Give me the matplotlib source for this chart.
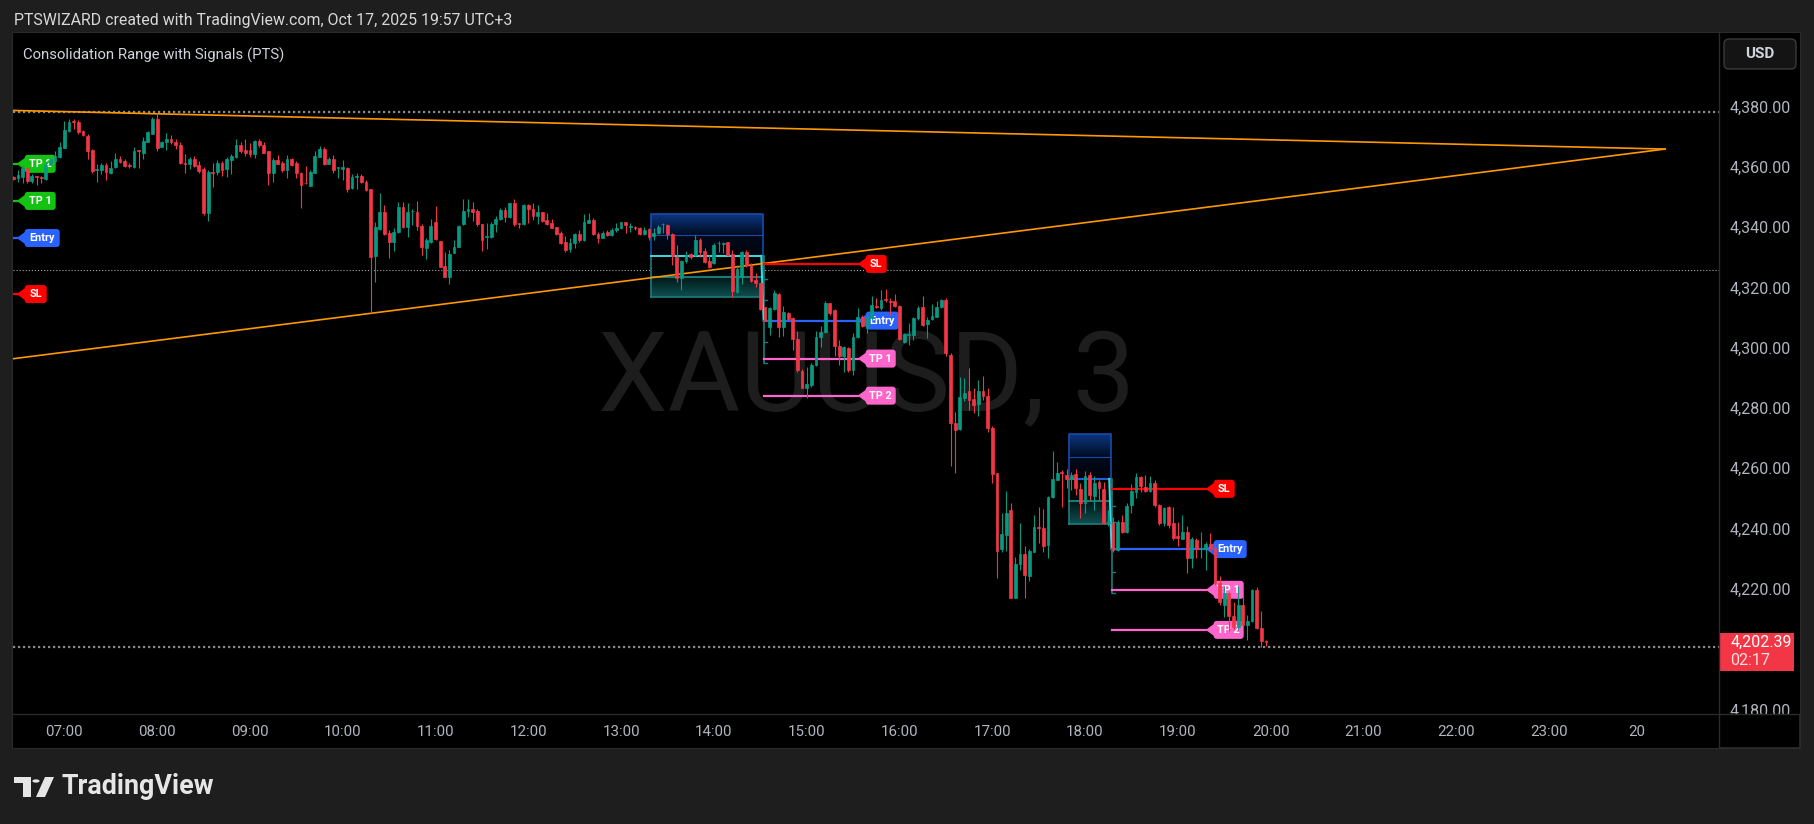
import numpy as np
import matplotlib
matplotlib.use("Agg")
import matplotlib.pyplot as plt
import matplotlib.transforms as mtransforms
from matplotlib.colors import LinearSegmentedColormap
from matplotlib.patches import FancyBboxPatch, Polygon, Rectangle, Circle

plt.rcParams["font.family"] = ["Roboto", "DejaVu Sans"]
plt.rcParams["lines.scale_dashes"] = False

W, H = 1814, 824

# ---- XAUUSD 3-minute candles, bar 0 = 06:27 (UTC+3) ----
opens = [
    4356.6, 4356.2, 4356.6, 4359.5, 4355.3, 4356.7, 4356.5, 4356.0, 4360.9, 4362.1,
    4363.2, 4366.4, 4372.0, 4375.0, 4374.9, 4371.9, 4370.3, 4365.5, 4359.0, 4359.0,
    4360.6, 4358.1, 4359.8, 4362.5, 4362.0, 4360.6, 4360.1, 4365.4, 4364.7, 4368.4,
    4371.0, 4375.9, 4366.7, 4368.1, 4369.3, 4368.3, 4367.3, 4361.3, 4360.9, 4362.6,
    4360.6, 4359.2, 4344.8, 4358.3, 4358.2, 4361.4, 4359.2, 4362.2, 4363.4, 4367.3,
    4365.6, 4365.6, 4364.3, 4368.6, 4367.3, 4365.1, 4358.1, 4362.3, 4361.3, 4359.0,
    4362.6, 4361.4, 4357.9, 4354.7, 4353.7, 4358.1, 4363.4, 4365.8, 4361.1, 4362.5,
    4359.5, 4359.2, 4359.5, 4352.9, 4356.5, 4357.0, 4355.1, 4352.5, 4330.4, 4339.4,
    4344.9, 4338.2, 4335.2, 4338.3, 4346.6, 4340.2, 4345.2, 4345.1, 4340.4, 4333.2,
    4335.2, 4341.6, 4335.4, 4327.1, 4323.3, 4331.5, 4333.5, 4340.9, 4345.5, 4346.0,
    4345.4, 4340.9, 4336.6, 4336.6, 4341.0, 4342.6, 4345.7, 4343.3, 4347.9, 4341.3,
    4341.0, 4347.3, 4345.9, 4343.7, 4344.9, 4342.4, 4341.5, 4339.9, 4338.2, 4335.0,
    4332.8, 4334.9, 4337.7, 4335.7, 4341.5, 4342.4, 4337.7, 4336.5, 4338.5, 4337.4,
    4339.1, 4339.6, 4341.6, 4340.2, 4340.2, 4339.6, 4337.6, 4339.3, 4337.1, 4338.2,
    4340.9, 4340.7, 4337.6, 4330.0, 4323.0, 4328.8, 4331.0, 4330.8, 4335.7, 4332.1,
    4328.8, 4328.0, 4334.6, 4334.5, 4335.0, 4331.0, 4318.6, 4323.5, 4331.9, 4327.6,
    4322.5, 4321.4, 4313.4, 4307.0, 4312.8, 4317.7, 4307.0, 4311.4, 4309.8, 4302.8,
    4292.3, 4286.8, 4287.5, 4294.3, 4303.5, 4305.1, 4314.7, 4312.5, 4300.7, 4297.4,
    4300.0, 4292.6, 4303.4, 4310.3, 4306.5, 4309.8, 4313.6, 4313.1, 4316.0, 4315.5,
    4315.5, 4313.9, 4302.0, 4304.2, 4304.2, 4309.8, 4313.4, 4307.8, 4309.4, 4310.3,
    4313.4, 4315.8, 4297.6, 4275.0, 4273.0, 4283.3, 4285.7, 4282.9, 4281.2, 4285.7,
    4284.1, 4273.3, 4258.4, 4233.2, 4238.0, 4246.2, 4217.0, 4228.2, 4231.5, 4224.3,
    4232.4, 4240.5, 4240.1, 4234.4, 4250.4, 4256.2, 4258.6, 4257.8, 4256.4, 4258.0,
    4253.1, 4248.4, 4257.8, 4250.9, 4255.6, 4253.1, 4242.0, 4242.0, 4232.9, 4242.3,
    4238.8, 4247.9, 4252.3, 4257.1, 4253.7, 4252.6, 4255.1, 4247.9, 4241.8, 4247.1,
    4241.8, 4237.4, 4236.6, 4238.8, 4230.4, 4236.3, 4233.2, 4233.2, 4234.8, 4233.5,
    4221.9, 4214.7, 4218.8, 4210.9, 4207.5, 4214.7, 4208.1, 4209.2, 4219.7, 4207.0,
    4202.6,
]
highs = [
    4357.0, 4359.0, 4360.6, 4360.1, 4357.7, 4357.0, 4357.0, 4361.7, 4363.0, 4365.3,
    4368.1, 4375.2, 4375.8, 4375.9, 4375.6, 4372.2, 4370.9, 4365.8, 4360.9, 4361.4,
    4361.2, 4362.1, 4364.7, 4363.6, 4362.5, 4361.2, 4366.7, 4365.6, 4370.0, 4371.9,
    4376.7, 4378.0, 4368.7, 4371.2, 4370.5, 4369.4, 4368.1, 4364.3, 4363.4, 4363.6,
    4361.8, 4360.1, 4358.8, 4361.2, 4362.3, 4362.1, 4363.4, 4364.3, 4369.2, 4368.1,
    4369.2, 4367.8, 4368.9, 4369.2, 4368.1, 4365.3, 4362.9, 4363.9, 4362.0, 4363.9,
    4362.9, 4362.1, 4358.4, 4360.2, 4358.8, 4365.1, 4366.9, 4366.5, 4363.4, 4364.0,
    4360.1, 4362.3, 4360.0, 4357.5, 4358.0, 4357.5, 4355.6, 4352.8, 4341.8, 4351.2,
    4347.3, 4339.1, 4339.6, 4348.4, 4348.2, 4347.9, 4345.9, 4348.7, 4341.0, 4336.3,
    4342.6, 4347.0, 4335.4, 4331.9, 4332.4, 4335.7, 4340.7, 4349.3, 4349.3, 4348.2,
    4345.9, 4340.9, 4341.3, 4341.6, 4343.8, 4346.5, 4346.8, 4348.1, 4349.3, 4341.5,
    4347.7, 4347.7, 4347.9, 4347.3, 4345.1, 4344.6, 4342.6, 4340.2, 4338.8, 4337.2,
    4336.3, 4337.9, 4339.1, 4344.4, 4344.8, 4342.9, 4338.5, 4338.8, 4339.1, 4339.6,
    4341.3, 4341.8, 4341.8, 4341.3, 4340.4, 4340.2, 4340.2, 4339.6, 4339.6, 4340.7,
    4341.3, 4341.0, 4338.0, 4334.1, 4329.1, 4332.2, 4331.5, 4337.4, 4336.3, 4333.0,
    4330.8, 4334.6, 4335.5, 4335.2, 4335.2, 4332.4, 4327.4, 4332.1, 4332.4, 4328.0,
    4324.7, 4321.6, 4313.4, 4313.4, 4319.2, 4318.1, 4313.9, 4311.9, 4310.3, 4305.4,
    4292.9, 4293.7, 4294.9, 4305.4, 4307.2, 4315.5, 4315.0, 4312.8, 4302.6, 4300.6,
    4300.4, 4304.8, 4313.1, 4310.9, 4310.9, 4317.0, 4316.4, 4319.2, 4319.4, 4316.6,
    4317.7, 4314.2, 4305.0, 4308.3, 4310.1, 4313.9, 4317.3, 4310.3, 4314.4, 4315.6,
    4316.1, 4316.4, 4298.2, 4278.8, 4290.4, 4289.9, 4293.2, 4286.6, 4289.3, 4290.6,
    4286.5, 4274.1, 4258.6, 4245.1, 4252.5, 4248.4, 4230.7, 4241.8, 4234.1, 4233.2,
    4244.6, 4247.1, 4246.4, 4250.9, 4265.8, 4262.2, 4259.3, 4259.7, 4258.9, 4259.7,
    4255.1, 4259.1, 4258.9, 4257.3, 4256.2, 4255.6, 4246.2, 4244.0, 4242.9, 4244.6,
    4248.6, 4254.8, 4258.6, 4257.5, 4257.8, 4257.3, 4256.2, 4248.2, 4247.3, 4247.5,
    4247.3, 4242.3, 4244.6, 4240.7, 4237.2, 4236.8, 4239.0, 4235.7, 4238.7, 4235.2,
    4224.3, 4220.8, 4219.1, 4215.8, 4221.0, 4218.0, 4211.4, 4219.9, 4220.5, 4212.7,
    4203.1,
]
lows = [
    4355.7, 4355.1, 4354.8, 4354.8, 4354.6, 4354.0, 4354.8, 4355.7, 4360.5, 4361.2,
    4362.9, 4366.2, 4371.7, 4372.5, 4370.9, 4370.3, 4362.6, 4358.1, 4355.1, 4357.7,
    4355.7, 4357.7, 4359.6, 4361.2, 4359.8, 4359.5, 4359.5, 4359.5, 4362.5, 4368.1,
    4370.8, 4365.4, 4366.5, 4365.6, 4367.5, 4365.8, 4361.0, 4357.9, 4359.2, 4360.1,
    4357.9, 4344.1, 4342.2, 4353.3, 4357.3, 4357.0, 4356.6, 4357.7, 4362.9, 4364.7,
    4363.6, 4363.4, 4362.8, 4366.7, 4364.5, 4354.0, 4355.1, 4360.9, 4358.3, 4356.2,
    4360.4, 4356.2, 4346.2, 4354.4, 4353.5, 4357.9, 4363.2, 4360.7, 4360.9, 4358.1,
    4356.2, 4355.7, 4351.5, 4352.5, 4352.8, 4354.8, 4352.0, 4311.4, 4321.9, 4339.0,
    4337.4, 4329.9, 4332.2, 4338.0, 4339.6, 4336.8, 4340.7, 4339.1, 4330.8, 4329.4,
    4334.6, 4335.7, 4326.7, 4323.3, 4321.0, 4331.3, 4333.3, 4340.7, 4343.5, 4342.1,
    4340.5, 4332.2, 4332.8, 4336.3, 4338.5, 4342.4, 4341.8, 4343.0, 4340.5, 4339.8,
    4340.7, 4341.5, 4342.4, 4340.9, 4341.8, 4340.7, 4339.6, 4337.4, 4334.4, 4331.9,
    4331.9, 4333.2, 4335.2, 4335.5, 4341.3, 4337.4, 4334.6, 4336.3, 4337.1, 4337.1,
    4338.5, 4339.3, 4337.9, 4338.5, 4339.0, 4337.4, 4337.4, 4335.7, 4335.7, 4337.7,
    4338.0, 4336.0, 4327.4, 4321.9, 4319.2, 4328.2, 4329.4, 4330.4, 4330.2, 4328.0,
    4326.3, 4327.7, 4331.9, 4331.3, 4330.4, 4316.7, 4318.3, 4321.0, 4326.9, 4321.7,
    4320.3, 4312.5, 4308.7, 4304.2, 4312.5, 4303.5, 4304.0, 4309.2, 4299.3, 4292.1,
    4286.6, 4283.3, 4287.1, 4294.0, 4300.4, 4305.0, 4310.9, 4297.1, 4294.3, 4291.8,
    4291.9, 4291.0, 4303.1, 4307.0, 4304.8, 4309.2, 4313.1, 4312.5, 4315.3, 4310.9,
    4313.6, 4302.6, 4301.7, 4300.9, 4302.6, 4309.2, 4307.2, 4303.1, 4309.2, 4310.1,
    4313.1, 4297.1, 4260.9, 4258.4, 4272.8, 4282.2, 4279.4, 4278.3, 4277.4, 4282.5,
    4271.9, 4255.1, 4223.6, 4232.4, 4232.7, 4217.0, 4217.0, 4226.3, 4217.0, 4222.5,
    4232.4, 4235.2, 4232.4, 4230.4, 4250.1, 4256.0, 4247.3, 4253.4, 4252.8, 4251.2,
    4243.5, 4245.1, 4249.5, 4246.2, 4249.5, 4241.6, 4240.7, 4232.4, 4232.7, 4238.5,
    4238.5, 4245.1, 4250.1, 4252.3, 4252.3, 4252.3, 4247.3, 4241.2, 4240.7, 4240.1,
    4236.1, 4234.3, 4236.5, 4225.2, 4226.9, 4230.4, 4230.2, 4226.3, 4232.7, 4221.3,
    4214.7, 4210.6, 4205.9, 4206.4, 4206.4, 4207.0, 4203.1, 4208.9, 4206.7, 4200.7,
    4201.0,
]
closes = [
    4356.1, 4357.3, 4359.5, 4355.3, 4357.0, 4356.5, 4356.2, 4360.6, 4362.5, 4363.6,
    4366.5, 4372.3, 4374.8, 4374.8, 4371.4, 4370.5, 4365.4, 4358.7, 4359.2, 4360.6,
    4358.2, 4359.5, 4362.5, 4361.6, 4360.3, 4360.2, 4365.3, 4365.2, 4368.6, 4371.6,
    4375.9, 4366.4, 4368.3, 4369.3, 4368.1, 4367.1, 4361.2, 4361.1, 4362.6, 4360.4,
    4358.7, 4344.6, 4358.2, 4358.1, 4361.4, 4359.0, 4362.6, 4363.6, 4367.3, 4365.3,
    4364.5, 4364.1, 4368.6, 4367.1, 4364.7, 4358.1, 4362.3, 4361.1, 4359.0, 4362.5,
    4360.7, 4357.9, 4354.0, 4354.5, 4358.3, 4363.6, 4365.8, 4361.1, 4362.5, 4359.0,
    4359.7, 4359.8, 4352.5, 4356.5, 4357.0, 4355.1, 4352.3, 4330.2, 4339.9, 4344.9,
    4337.7, 4335.2, 4338.3, 4346.6, 4340.2, 4345.1, 4345.5, 4340.5, 4333.5, 4335.7,
    4340.4, 4336.1, 4326.9, 4323.3, 4331.1, 4333.3, 4340.4, 4345.4, 4346.0, 4345.1,
    4340.9, 4335.7, 4336.8, 4341.0, 4342.7, 4345.7, 4343.3, 4347.9, 4341.0, 4341.0,
    4347.3, 4345.9, 4343.8, 4345.1, 4342.1, 4341.0, 4339.8, 4337.7, 4334.9, 4332.4,
    4334.9, 4337.7, 4335.7, 4341.6, 4342.4, 4337.6, 4336.5, 4338.2, 4337.4, 4339.1,
    4339.6, 4341.6, 4340.7, 4340.4, 4339.6, 4337.6, 4339.1, 4336.6, 4338.2, 4340.2,
    4341.1, 4337.6, 4330.4, 4323.0, 4328.8, 4330.8, 4330.0, 4335.7, 4331.9, 4328.6,
    4326.9, 4334.1, 4334.8, 4334.8, 4330.8, 4318.9, 4326.0, 4331.9, 4327.4, 4322.1,
    4321.4, 4312.8, 4309.0, 4313.1, 4318.1, 4307.0, 4311.8, 4309.4, 4302.8, 4292.6,
    4286.8, 4288.0, 4294.3, 4303.7, 4305.2, 4314.7, 4311.6, 4300.7, 4297.4, 4300.4,
    4292.6, 4303.7, 4310.3, 4307.2, 4310.3, 4314.2, 4313.4, 4315.8, 4315.7, 4315.3,
    4313.9, 4302.8, 4304.5, 4304.5, 4309.8, 4313.1, 4307.6, 4309.2, 4310.5, 4313.6,
    4315.8, 4298.2, 4275.0, 4272.8, 4283.8, 4285.1, 4282.5, 4281.0, 4285.7, 4284.1,
    4273.3, 4258.0, 4232.6, 4238.1, 4245.3, 4217.0, 4228.2, 4231.5, 4224.5, 4232.6,
    4240.5, 4240.1, 4234.1, 4250.4, 4256.4, 4258.4, 4258.4, 4256.4, 4257.8, 4253.4,
    4248.4, 4257.3, 4251.2, 4255.1, 4253.4, 4241.8, 4242.3, 4232.9, 4242.3, 4238.8,
    4247.6, 4252.5, 4257.1, 4254.0, 4252.6, 4255.1, 4247.9, 4241.8, 4246.8, 4241.2,
    4236.8, 4237.0, 4238.8, 4230.4, 4236.5, 4233.2, 4233.5, 4234.8, 4233.7, 4221.9,
    4215.8, 4218.8, 4210.9, 4207.5, 4214.7, 4208.1, 4209.2, 4219.7, 4207.0, 4202.7,
    4202.39,
]
last_price = 4202.39
countdown = "02:17"

# axis ticks
price_ticks = [4180, 4220, 4240, 4260, 4280, 4300, 4320, 4340, 4360, 4380]
time_tick_bars = [11, 31, 51, 71, 91, 111, 131, 151, 171, 191, 211, 231, 251, 271, 291, 311, 331, 350]
time_tick_labels = ["07:00", "08:00", "09:00", "10:00", "11:00", "12:00", "13:00", "14:00", "15:00",
                    "16:00", "17:00", "18:00", "19:00", "20:00", "21:00", "22:00", "23:00", "20"]

# triangle trendlines (anchor bar, price)
upper_line_bars = [31, 356]
upper_line_prices = [4377.6, 4365.9]
lower_line_bars = [77, 356]
lower_line_prices = [4311.4, 4365.9]

# horizontal dotted price lines
coarse_dotted_prices = [4378.3, 4200.6]
fine_dotted_prices = [4325.8]

# consolidation boxes
box_start = [137.5, 227.6]
box_end = [161.5, 236.5]
box_levels = [
    [4316.7, 4323.6, 4330.5, 4337.4, 4344.3],
    [4241.6, 4249.2, 4256.5, 4263.7, 4271.3],
]
box_break_low = [4295.0, 4218.6]
box_break_ticks = [
    [4322.8, 4315.8, 4309.2, 4302.0, 4295.0],
    [4247.6, 4242.1, 4225.5, 4218.6],
]

# trade signals after each breakout
trade_start = [161.8, 236.8]
trade_end = [182.0, 257.0]
sl_prices = [4327.8, 4253.2]
entry_prices = [4309.0, 4233.2]
tp1_prices = [4296.4, 4219.7]
tp2_prices = [4284.1, 4206.4]

# labels of the earlier trade, hanging at the left edge
left_label_texts = ["TP 2", "TP 1", "Entry", "SL"]
left_label_prices = [4361.0, 4348.7, 4336.4, 4317.8]

# ---- style ----
BG = "#1e1e1e"
PANE = "#000000"
GRID_LINE = "#2a2a2a"
TXT = "#b2b5be"
UP = "#089981"
DOWN = "#f23645"
ORANGE = "#ff9800"
SL_C = "#ff0000"
ENTRY_C = "#2962ff"
TP_C = "#ff66cc"
TP_HIT_C = "#13c213"

PL, PR, PT, PB = 12.7, 1719.3, 33.0, 714.0
AX_R, TIME_B = 1800.0, 748.0
x_view = (-0.13, 367.7)
y_view = (4178.5, 4404.4)


def fx(x):
    return x / W


def fy(y):
    return 1 - y / H


fig = plt.figure(figsize=(W / 100, H / 100), dpi=100)
fig.patch.set_facecolor(BG)

# chart container
fig.patches.append(Rectangle((fx(PL), fy(TIME_B)), fx(AX_R - PL), (TIME_B - PT) / H,
                             transform=fig.transFigure, facecolor=PANE, edgecolor="#2e2e2e",
                             linewidth=1.2, zorder=-1))

ax = fig.add_axes([fx(PL), fy(PB), fx(PR - PL), (PB - PT) / H])
ax_p = fig.add_axes([fx(PR), fy(PB), fx(AX_R - PR), (PB - PT) / H])
ax_t = fig.add_axes([fx(PL), fy(TIME_B), fx(PR - PL), (TIME_B - PB) / H])
for a in (ax, ax_p, ax_t):
    a.set_facecolor(PANE)
    for s in a.spines.values():
        s.set_visible(False)
    a.set_xlim(*x_view)
ax.set_ylim(*y_view)
ax_p.set_ylim(*y_view)
ax.set_xticks([])
ax.set_yticks([])

ux = (x_view[1] - x_view[0]) / (PR - PL)   # bars per pixel
uy = (y_view[1] - y_view[0]) / (PB - PT)   # price per pixel

# separators
fig.add_artist(plt.Line2D([fx(PR), fx(PR)], [fy(PT), fy(TIME_B)], color=GRID_LINE, lw=1))
fig.add_artist(plt.Line2D([fx(PL), fx(AX_R)], [fy(PB), fy(PB)], color=GRID_LINE, lw=1))

# watermark
ax.text(0.5, 0.4454, "XAUUSD, 3", transform=ax.transAxes, ha="center", va="baseline",
        fontsize=80, color="#1d1d1d", zorder=0.2)

# dotted price lines
for p in coarse_dotted_prices:
    ax.axhline(p, color="#8a8a8a", lw=1.6, dashes=(1.6, 2.0), zorder=1)
for p in fine_dotted_prices:
    ax.axhline(p, color="#a8a8a8", lw=0.8, dashes=(0.8, 1.4), zorder=1)


def gradient(x0, x1, y0, y1, c_bottom, c_top, z=1.2):
    cmap = LinearSegmentedColormap.from_list("band", [c_bottom, c_top])
    ax.imshow(np.linspace(0, 1, 64).reshape(-1, 1), cmap=cmap, extent=[x0, x1, y0, y1],
              origin="lower", aspect="auto", interpolation="bilinear", zorder=z)


# consolidation boxes
box_hi_colors = ["#3dd6e0", "#1f5fe0"]
for i in range(len(box_start)):
    x0, x1 = box_start[i], box_end[i]
    lv = box_levels[i]
    gradient(x0, x1, lv[0], lv[1], "#0f4f50", "#011616")
    gradient(x0, x1, lv[1], lv[2], "#000a0a", "#000000")
    gradient(x0, x1, lv[2], lv[3], "#00030a", "#010a1c")
    gradient(x0, x1, lv[3], lv[4], "#010c22", "#0b3680")
    ax.plot([x0, x1, x1, x0, x0], [lv[2], lv[2], lv[4], lv[4], lv[2]], color="#1a4aa8", lw=1.2, zorder=1.5)
    ax.plot([x0, x1], [lv[3], lv[3]], color="#1a4aa8", lw=0.8, zorder=1.5)
    ax.plot([x0, x1, x1, x0, x0], [lv[0], lv[0], lv[2], lv[2], lv[0]], color="#1d7b7b", lw=1.2, zorder=1.5)
    ax.plot([x0, x1], [lv[1], lv[1]], color="#1f9090", lw=1.2, zorder=1.6)
    ax.plot([x0, x1 - 0.3], [lv[2], lv[2]], color=box_hi_colors[i], lw=1.4, zorder=1.7)
    ax.plot([x1 - 0.3, x1 + 0.2], [lv[2], entry_prices[i]], color="#3dd6e0", lw=1.4, zorder=1.7)
    ax.plot([x1 + 0.2, x1 + 0.2], [lv[2], box_break_low[i]], color="#1d7b7b", lw=1.2, zorder=1.6)
    for t in box_break_ticks[i]:
        ax.plot([x1 + 0.2, x1 + 0.9], [t, t], color="#1d7b7b", lw=1.0, zorder=1.6)

# triangle trendlines
for bars, prices in ((upper_line_bars, upper_line_prices), (lower_line_bars, lower_line_prices)):
    slope = (prices[1] - prices[0]) / (bars[1] - bars[0])
    xs = np.array([x_view[0] - 1, bars[1]])
    ax.plot(xs, prices[0] + slope * (xs - bars[0]), color=ORANGE, lw=1.2, zorder=2)


def tag(x_tip, y, text, color, w_px, h_px=18, ptr_px=8, z=2.6):
    half = h_px / 2 * uy
    pw = ptr_px * ux
    ax.add_patch(Polygon([(x_tip, y), (x_tip + pw + 2 * ux, y + 0.4 * h_px * uy),
                          (x_tip + pw + 2 * ux, y - 0.4 * h_px * uy)],
                         closed=True, facecolor=color, edgecolor="none", zorder=z))
    ax.add_patch(FancyBboxPatch((x_tip + pw, y - half), (w_px - ptr_px) * ux, h_px * uy,
                                boxstyle=f"round,pad=0,rounding_size={3 * ux}",
                                mutation_aspect=uy / ux, facecolor=color, edgecolor="none", zorder=z))
    ax.text(x_tip + pw + (w_px - ptr_px) * ux / 2, y, text, ha="center", va="center",
            fontsize=7.8, fontweight="bold", color="white", zorder=z + 0.1)


# trade lines and labels
for i in range(len(trade_start)):
    xa, xb = trade_start[i], trade_end[i]
    for p, c, txt, w in ((sl_prices[i], SL_C, "SL", 29), (entry_prices[i], ENTRY_C, "Entry", 41),
                         (tp1_prices[i], TP_C, "TP 1", 38), (tp2_prices[i], TP_C, "TP 2", 38)):
        ax.plot([xa, xb], [p, p], color=c, lw=1.6, zorder=2.4)
        tag(xb, p, txt, c, w)

left_colors = [TP_HIT_C, TP_HIT_C, ENTRY_C, SL_C]
left_widths = [39, 39, 43, 30]
for txt, p, c, w in zip(left_label_texts, left_label_prices, left_colors, left_widths):
    ax.plot([x_view[0] - 1, 0.73], [p, p], color=c, lw=1.6, zorder=2.4)
    tag(0.73, p, txt, c, w)

# candles
o, hi, lo, c = map(np.asarray, (opens, highs, lows, closes))
bars = np.arange(len(o))
cols = np.where(c >= o, UP, DOWN)
ax.vlines(bars, lo, hi, colors=cols, lw=0.8, zorder=4)
ax.bar(bars, np.maximum(np.abs(c - o), 0.3), bottom=np.minimum(o, c), width=0.6,
       color=cols, edgecolor=cols, linewidth=0.5, zorder=5)
ax.set_xlim(*x_view)
ax.set_ylim(*y_view)

# price axis
ax_p.set_xticks([])
ax_p.set_yticks(price_ticks, [f"{p:,.2f}" for p in price_ticks])
ax_p.tick_params(axis="y", length=0, pad=-7.7, labelsize=11.5, labelcolor=TXT)
for lbl in ax_p.get_yticklabels():
    lbl.set_horizontalalignment("left")
    lbl.set_clip_on(True)
    lbl.set_clip_box(ax_p.bbox)

bt = mtransforms.blended_transform_factory(ax_p.transAxes, ax_p.transData)
pw_frac = 1 / (AX_R - PR)
ax_p.add_patch(Rectangle((1 * pw_frac, last_price - 29 * uy), 74 * pw_frac, 38 * uy,
                         transform=bt, facecolor=DOWN, edgecolor="none", zorder=3))
ax_p.text(11 * pw_frac, last_price, f"{last_price:,.2f}", transform=bt, ha="left", va="center",
          fontsize=11.5, color="white", zorder=4)
ax_p.text(11 * pw_frac, last_price - 19 * uy, countdown, transform=bt, ha="left", va="center",
          fontsize=11.5, color="#ffe0e3", zorder=4)

# time axis
ax_t.set_ylim(0, 1)
ax_t.set_yticks([])
ax_t.set_xticks(time_tick_bars, time_tick_labels)
ax_t.tick_params(axis="x", length=0, pad=-11.7, labelsize=10.8, labelcolor=TXT)
for lbl in ax_t.get_xticklabels():
    lbl.set_verticalalignment("center")

# USD button
fig.patches.append(FancyBboxPatch((fx(1724), fy(69)), fx(72), 30 / H,
                                  boxstyle=f"round,pad=0,rounding_size={5 / W}",
                                  mutation_aspect=W / H, transform=fig.transFigure,
                                  facecolor="#141414", edgecolor="#3a3a3a", lw=1, zorder=3))
fig.text(fx(1760), fy(54), "USD", ha="center", va="center", fontsize=11, fontweight="bold",
         color="#d1d4dc", zorder=4)

# titles
fig.text(fx(14), fy(20), "PTSWIZARD created with TradingView.com, Oct 17, 2025 19:57 UTC+3",
         ha="left", va="center", fontsize=11.4, color="#d8d8d8")
ax.text(fx(23 - PL) * W / (PR - PL), (PB - 55) / (PB - PT),
        "Consolidation Range with Signals (PTS)", transform=ax.transAxes,
        ha="left", va="center", fontsize=10.7, color="#d1d4dc", zorder=6)

# TradingView logo
logo_c = "#e6e6e6"
fig.patches.append(Rectangle((fx(14), fy(783)), fx(17), 6 / H, transform=fig.transFigure,
                             facecolor=logo_c, edgecolor="none"))
fig.patches.append(Rectangle((fx(23), fy(797)), fx(8), 20 / H, transform=fig.transFigure,
                             facecolor=logo_c, edgecolor="none"))
fig.patches.append(Circle((fx(36), fy(781)), 3.6 / W, transform=fig.transFigure,
                          facecolor=logo_c, edgecolor="none"))
fig.patches.append(Polygon([(fx(45), fy(777)), (fx(54), fy(777)), (fx(45), fy(797)), (fx(36), fy(797))],
                           closed=True, transform=fig.transFigure, facecolor=logo_c, edgecolor="none"))
fig.text(fx(62), fy(786), "TradingView", ha="left", va="center", fontsize=19.4,
         fontweight="bold", color=logo_c)

fig.savefig("out.png", dpi=100, facecolor=BG)
